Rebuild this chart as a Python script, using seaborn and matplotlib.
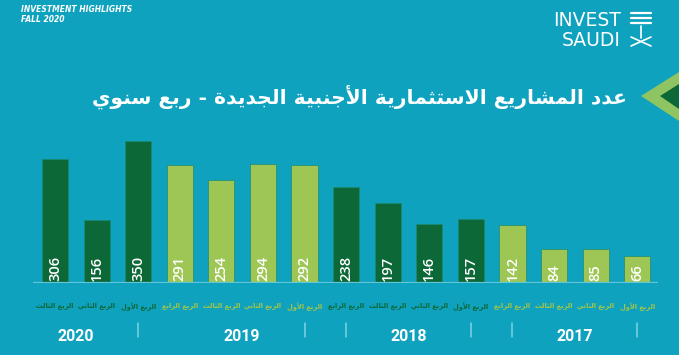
import pandas as pd
import matplotlib
matplotlib.use("Agg")
import matplotlib.pyplot as plt
from matplotlib.patches import Polygon
from matplotlib.lines import Line2D
import seaborn as sns

# data, in the order shown (right-to-left reading, newest first)
values = [306, 156, 350, 291, 254, 294, 292, 238, 197, 146, 157, 142, 84, 85, 66]
quarters = ["الربع الثالث", "الربع الثاني", "الربع الأول",
            "الربع الرابع", "الربع الثالث", "الربع الثاني", "الربع الأول",
            "الربع الرابع", "الربع الثالث", "الربع الثاني", "الربع الأول",
            "الربع الرابع", "الربع الثالث", "الربع الثاني", "الربع الأول"]
years = ["2020"] * 3 + ["2019"] * 4 + ["2018"] * 4 + ["2017"] * 4
title = "عدد المشاريع الاستثمارية الأجنبية الجديدة - ربع سنوي"

BG = "#0ea2bf"
DARK = "#0c6836"
LIGHT = "#9dc655"
LIGHT_TXT = "#a6c545"
shade_of_year = {"2020": "dark", "2019": "light", "2018": "dark", "2017": "light"}

# --- tiny arabic shaper (matplotlib has no bidi / joining support) ---
FORMS = {
    "ا": ("\uFE8D", "\uFE8E", None, None),
    "أ": ("\uFE83", "\uFE84", None, None),
    "ب": ("\uFE8F", "\uFE90", "\uFE91", "\uFE92"),
    "ة": ("\uFE93", "\uFE94", None, None),
    "ت": ("\uFE95", "\uFE96", "\uFE97", "\uFE98"),
    "ث": ("\uFE99", "\uFE9A", "\uFE9B", "\uFE9C"),
    "ج": ("\uFE9D", "\uFE9E", "\uFE9F", "\uFEA0"),
    "د": ("\uFEA9", "\uFEAA", None, None),
    "ر": ("\uFEAD", "\uFEAE", None, None),
    "س": ("\uFEB1", "\uFEB2", "\uFEB3", "\uFEB4"),
    "ش": ("\uFEB5", "\uFEB6", "\uFEB7", "\uFEB8"),
    "ع": ("\uFEC9", "\uFECA", "\uFECB", "\uFECC"),
    "ل": ("\uFEDD", "\uFEDE", "\uFEDF", "\uFEE0"),
    "م": ("\uFEE1", "\uFEE2", "\uFEE3", "\uFEE4"),
    "ن": ("\uFEE5", "\uFEE6", "\uFEE7", "\uFEE8"),
    "و": ("\uFEED", "\uFEEE", None, None),
    "ي": ("\uFEF1", "\uFEF2", "\uFEF3", "\uFEF4"),
}
LIG = {"\uFEF7": ("\uFEF7", "\uFEF8"), "\uFEFB": ("\uFEFB", "\uFEFC")}


def ar(text):
    text = text.replace("لأ", "\uFEF7").replace("لا", "\uFEFB")
    out = []
    for i, c in enumerate(text):
        prev = text[i - 1] if i > 0 else None
        nxt = text[i + 1] if i + 1 < len(text) else None
        joins_prev = prev in FORMS and FORMS[prev][2] is not None
        if c in LIG:
            out.append(LIG[c][1] if joins_prev else LIG[c][0])
        elif c in FORMS:
            iso, fin, ini, med = FORMS[c]
            joins_next = ini is not None and (nxt in FORMS or nxt in LIG)
            if joins_prev and joins_next:
                out.append(med)
            elif joins_prev:
                out.append(fin)
            elif joins_next:
                out.append(ini)
            else:
                out.append(iso)
        else:
            out.append(c)
    return "".join(reversed(out))


df = pd.DataFrame({"idx": range(len(values)), "value": values,
                   "quarter": quarters, "year": years})
df["shade"] = df["year"].map(shade_of_year)

sns.set_style("white")
plt.rcParams["font.family"] = ["DejaVu Sans"]

fig = plt.figure(figsize=(6.79, 3.55), dpi=100, facecolor=BG)
ax = fig.add_axes([0.0486, 0.2028, 0.9205, 0.4338])
ax.set_facecolor(BG)

sns.barplot(data=df, x="idx", y="value", hue="shade",
            palette={"dark": DARK, "light": LIGHT}, dodge=False, saturation=1,
            width=0.63, legend=False, ax=ax, edgecolor="#1f8a6e", linewidth=0.5)

ax.set_xlim(-0.53, 14.5)
ax.set_ylim(0, 380)
ax.axhline(0, color="#63c6d8", lw=1.6, zorder=5)
for s in ax.spines.values():
    s.set_visible(False)
ax.set_yticks([])
ax.set_xlabel("")
ax.set_ylabel("")

# value labels inside the bars
for i, v in enumerate(values):
    ax.text(i, 6, str(v), rotation=90, ha="center", va="bottom",
            color="white", fontsize=10.5, family="Open Sans", fontweight="semibold")

# quarter tick labels
ax.set_xticks(df["idx"])
ax.set_xticklabels([ar(q) for q in quarters], fontsize=4.8, fontweight="bold")
ax.tick_params(axis="x", length=0, pad=14)
for lab, sh in zip(ax.get_xticklabels(), df["shade"]):
    lab.set_color(DARK if sh == "dark" else LIGHT_TXT)

# year labels and separators below
trans = ax.get_xaxis_transform()
for yr, grp in df.groupby("year", sort=False):
    center = grp["idx"].max() - 1.5
    ax.text(center, -0.35, yr, transform=trans, ha="center", va="center",
            color="white", fontsize=11.5, fontweight="bold", family="Roboto")
for sep in [2, 6, 7, 10, 11, 14]:
    ax.plot([sep, sep], [-0.26, -0.35], transform=trans, color="#7fd2e2",
            lw=1.1, clip_on=False)

# header
fig.text(21 / 679, 1 - 10 / 355, "INVESTMENT HIGHLIGHTS", color="white",
         fontsize=5.5, fontweight="bold", style="italic", va="center")
fig.text(21 / 679, 1 - 20 / 355, "FALL 2020", color="white",
         fontsize=5.5, fontweight="bold", style="italic", va="center")
fig.text(621 / 679, 1 - 20 / 355, "INVEST", color="white", fontsize=13.5,
         family="DejaVu Sans", fontweight="normal", ha="right", va="center")
fig.text(621 / 679, 1 - 40 / 355, "SAUDI", color="white", fontsize=13.5,
         family="DejaVu Sans", fontweight="normal", ha="right", va="center")


def px(x, y):
    return (x / 679, 1 - y / 355)


# simple logo mark
for y0 in (13, 18, 23):
    (a, b), (c, d) = px(631, y0), px(651, y0)
    fig.add_artist(Line2D([a, c], [b, d], color="white", lw=1.6))
for (x0, y0, x1, y1) in [(641, 26, 641, 38), (631, 46, 651, 37), (631, 37, 651, 46)]:
    (a, b), (c, d) = px(x0, y0), px(x1, y1)
    fig.add_artist(Line2D([a, c], [b, d], color="white", lw=1.2))

fig.text(627 / 679, 1 - 97 / 355, ar(title), color="white", fontsize=14.6,
         fontweight="bold", ha="right", va="center")

# chevron
fig.patches.append(Polygon([px(641, 96), px(679, 72), px(679, 121)],
                           closed=True, transform=fig.transFigure,
                           facecolor="#8fc462", edgecolor="none"))
fig.patches.append(Polygon([px(660, 96), px(679, 84), px(679, 109)],
                           closed=True, transform=fig.transFigure,
                           facecolor=DARK, edgecolor="none"))

fig.savefig("out.png", dpi=100, facecolor=BG)
